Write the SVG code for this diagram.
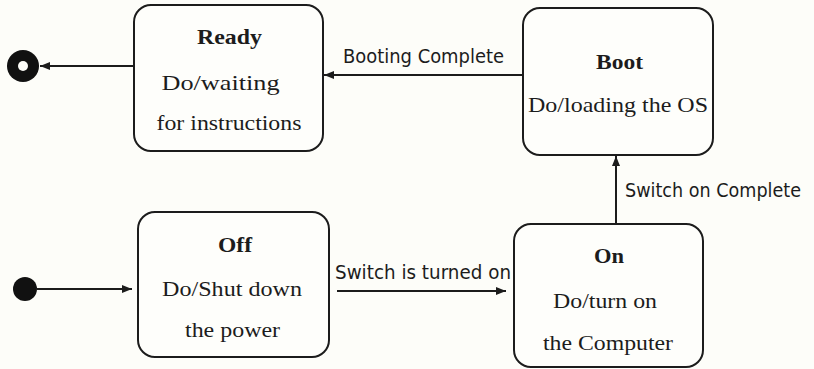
<svg xmlns="http://www.w3.org/2000/svg" width="814" height="369" viewBox="0 0 814 369">
<style>
.box{fill:#fefefb;stroke:#1c1c1c;stroke-width:2}
.t{font-family:"Liberation Serif","Times New Roman",serif;font-size:22px;fill:#1c1c1c;text-anchor:middle}
.b{font-weight:bold}
.lbl{font-family:"DejaVu Sans",Tahoma,Verdana,sans-serif;font-size:19px;fill:#1c1c1c}
.edge{fill:none;stroke:#1c1c1c;stroke-width:2}
</style>
<defs>
<marker id="ah" markerUnits="userSpaceOnUse" markerWidth="10" markerHeight="8" refX="10" refY="4" orient="auto">
<path d="M0,0 L10,4 L0,8 Z" fill="#1c1c1c"/>
</marker>
</defs>
<rect width="814" height="369" fill="#fdfdf9"/>
<g id="initial"><circle cx="25" cy="289" r="12" fill="#111"/></g>
<g id="final"><circle cx="23" cy="66" r="16" fill="#111"/><circle cx="23" cy="66" r="5" fill="#fdfdf9"/></g>
<g id="ready">
<rect class="box" x="134" y="5" width="189" height="146" rx="17"/>
<text class="t b" x="229.5" y="44" textLength="65" lengthAdjust="spacingAndGlyphs">Ready</text>
<text class="t" x="220.5" y="90" textLength="118" lengthAdjust="spacingAndGlyphs">Do/waiting</text>
<text class="t" x="229" y="130" textLength="145" lengthAdjust="spacingAndGlyphs">for instructions</text>
</g>
<g id="boot">
<rect class="box" x="523" y="8" width="190" height="147" rx="17"/>
<text class="t b" x="619.5" y="69" textLength="47" lengthAdjust="spacingAndGlyphs">Boot</text>
<text class="t" x="618" y="112" textLength="180" lengthAdjust="spacingAndGlyphs">Do/loading the OS</text>
</g>
<g id="off">
<rect class="box" x="138" y="212" width="191" height="145" rx="17"/>
<text class="t b" x="235" y="252" textLength="34" lengthAdjust="spacingAndGlyphs">Off</text>
<text class="t" x="232" y="296" textLength="140" lengthAdjust="spacingAndGlyphs">Do/Shut down</text>
<text class="t" x="232.5" y="337" textLength="95" lengthAdjust="spacingAndGlyphs">the power</text>
</g>
<g id="on">
<rect class="box" x="514" y="224" width="189" height="143" rx="17"/>
<text class="t b" x="609" y="263" textLength="30" lengthAdjust="spacingAndGlyphs">On</text>
<text class="t" x="605" y="308" textLength="104" lengthAdjust="spacingAndGlyphs">Do/turn on</text>
<text class="t" x="608" y="350" textLength="130" lengthAdjust="spacingAndGlyphs">the Computer</text>
</g>
<g id="connectors">
<line class="edge" x1="37" y1="289" x2="132" y2="289" marker-end="url(#ah)"/>
<line class="edge" x1="337" y1="291" x2="506" y2="291" marker-end="url(#ah)"/>
<line class="edge" x1="616" y1="224" x2="616" y2="156" marker-end="url(#ah)"/>
<line class="edge" x1="523" y1="75" x2="324" y2="75" marker-end="url(#ah)"/>
<line class="edge" x1="134" y1="66" x2="40" y2="66" marker-end="url(#ah)"/>
<text class="lbl" x="335" y="279" textLength="176" lengthAdjust="spacingAndGlyphs">Switch is turned on</text>
<text class="lbl" x="625" y="197" textLength="176" lengthAdjust="spacingAndGlyphs">Switch on Complete</text>
<text class="lbl" x="343" y="63" textLength="161" lengthAdjust="spacingAndGlyphs">Booting Complete</text>
</g>
</svg>
